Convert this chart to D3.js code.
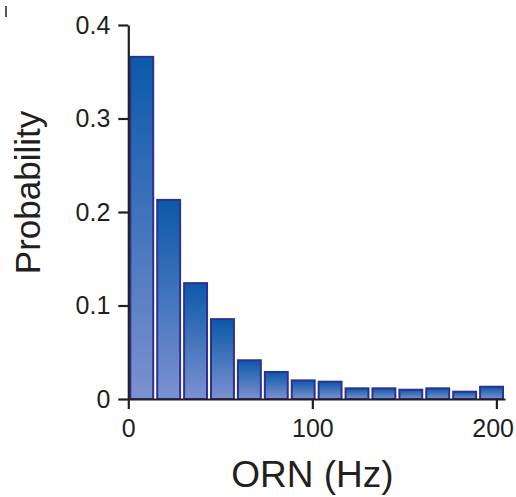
<!DOCTYPE html>
<html>
<head>
<meta charset="utf-8">
<script src="https://cdn.jsdelivr.net/npm/d3@7"></script>
<style>
  body { margin: 0; background: #fff; }
  text { font-family: "Liberation Sans", Arial, Helvetica, sans-serif; fill: #231f20; }
</style>
</head>
<body>
<div id="chart"></div>
<script>
// Histogram of ORN firing rates
const binWidth = 14.62; // Hz
const binStarts = [0, 14.62, 29.24, 43.86, 58.48, 73.1, 87.72, 102.34, 116.96, 131.58, 146.2, 160.82, 175.44, 190.06];
const probs = [0.367, 0.214, 0.125, 0.0865, 0.0425, 0.030, 0.021, 0.0196, 0.0125, 0.0125, 0.011, 0.0125, 0.0089, 0.0142];
const yTicks = [0, 0.1, 0.2, 0.3, 0.4];
const xTicks = [0, 100, 200];

const width = 516, height = 497;
const margin = { left: 128.3, right: 11, top: 25, bottom: 98 };

const svg = d3.select('#chart')
    .append('svg')
    .attr('width', width)
    .attr('height', height);

// gradient for the bars (dark top -> light bottom)
const grad = svg.append('defs').append('linearGradient')
    .attr('id', 'barGrad')
    .attr('x1', 0).attr('y1', 0).attr('x2', 0).attr('y2', 1);
grad.append('stop').attr('offset', '0%').attr('stop-color', '#0b59a9');
grad.append('stop').attr('offset', '100%').attr('stop-color', '#7d91d0');

const x = d3.scaleLinear()
    .domain([0, binStarts[binStarts.length - 1] + binWidth])
    .range([margin.left, width - margin.right]);

const y = d3.scaleLinear()
    .domain([0, 0.4])
    .range([height - margin.bottom, margin.top]);

// bars
svg.selectAll('.bar')
    .data(binStarts.map((s, i) => ({ start: s, p: probs[i] })))
    .join('rect')
    .attr('class', 'bar')
    .attr('x', d => x(d.start) + 2)
    .attr('width', d => x(d.start + binWidth) - x(d.start) - 4)
    .attr('y', d => y(d.p) + 1)
    .attr('height', d => y(0) - y(d.p) - 1)
    .attr('fill', 'url(#barGrad)')
    .attr('stroke', '#2c3192')
    .attr('stroke-width', 2);

// y axis
const yAxis = svg.append('g')
    .attr('transform', `translate(${margin.left},0)`)
    .call(d3.axisLeft(y)
        .tickValues(yTicks)
        .tickFormat(d => d === 0 ? '0' : d3.format('.1f')(d))
        .tickSize(10)
        .tickSizeOuter(0)
        .tickPadding(8));

// x axis
const xAxis = svg.append('g')
    .attr('transform', `translate(0,${y(0)})`)
    .call(d3.axisBottom(x)
        .tickValues(xTicks)
        .tickSize(10)
        .tickSizeOuter(0)
        .tickPadding(10));

[yAxis, xAxis].forEach(g => {
    g.select('.domain').attr('stroke', '#231f20').attr('stroke-width', 2.2);
    g.selectAll('.tick line').attr('stroke', '#231f20').attr('stroke-width', 2.2);
    g.selectAll('.tick text')
        .style('font-size', '25px')
        .style('font-family', '"Liberation Sans", Arial, sans-serif')
        .attr('fill', '#231f20');
});

// keep x tick labels inside the page
xAxis.selectAll('.tick text').each(function() {
    const b = this.getBBox();
    const tx = +this.parentNode.getAttribute('transform').match(/translate\(([-\d.]+)/)[1];
    const over = tx + b.x + b.width - (width - 2);
    if (over > 0) d3.select(this).attr('dx', -over);
});

// axis titles
svg.append('text')
    .attr('x', x(100))
    .attr('y', 487)
    .attr('text-anchor', 'middle')
    .style('font-size', '37px')
    .text('ORN (Hz)');

svg.append('text')
    .attr('transform', `translate(40,${(110 + 275) / 2}) rotate(-90)`)
    .attr('text-anchor', 'middle')
    .style('font-size', '35px')
    .text('Probability');

// clipped panel mark at top left
svg.append('line')
    .attr('x1', 6).attr('x2', 6)
    .attr('y1', 6).attr('y2', 17)
    .attr('stroke', '#231f20')
    .attr('stroke-width', 1.5);
</script>
</body>
</html>
